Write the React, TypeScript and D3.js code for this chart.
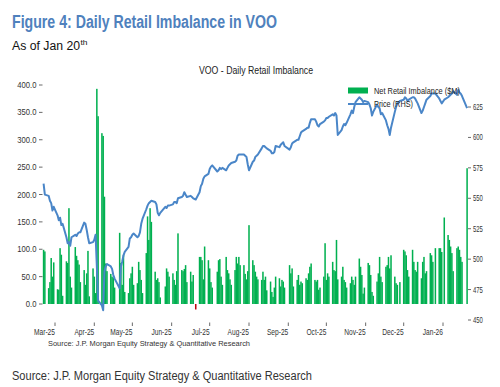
import React from "react";
import * as d3 from "d3";

// ---- Data ----
const imbFeb25 = [99, 96, 29, 40, 84, 50, 76];
const imbMar25 = [27, 26, 102, 90, 15, 78, 75, 175, 50, 30, 104, 88, 80, 72, 40, 62, 35, 56, 97, 14, 65];
const imbApr25 = [50, 20, 393, 343, 312, 307, 196, 74, 60, 55, 50, 48, 30, 130, 75, 35, 90, 22, 20, 47, 56];
const imbMay25 = [68, 35, 38, 77, 62, 44, 20, 93, 160, 117, 175, 150, 59, 44, 47, 40, 12, 32, 65, 59, 50];
const imbJun25 = [56, 44, 35, 60, 129, 62, 60, 64, 71, 40, 59, 41, 53, -10, 86, 86, 80, 45, 105, 80];
const imbJul25 = [65, 40, 30, 59, 80, 82, 50, 35, 86, 62, 56, 45, 35, 62, 86, 74, 86, 71, 71, 55, 45, 60];
const imbAug25 = [144, 80, 71, 59, 50, 45, 44, 59, 44, 50, 25, 41, 22, 13, 30, 50, 47, 32, 44, 41, 30];
const imbSep25 = [71, 56, 65, 32, 44, 53, 35, 41, 38, 47, 44, 56, 68, 74, 44, 41, 44, 26, 30, 50, 111];
const imbOct25 = [44, 56, 50, 77, 62, 60, 117, 45, 50, 68, 44, 40, 30, 38, 50, 44, 35, 50, 83, 68, 53, 19, 30];
const imbNov25 = [75, 71, 53, 22, 15, 41, 56, 86, 50, 40, 68, 71, 86, 65, 89, 50, 38, 35, 40];
const imbDec25 = [99, 96, 89, 62, 50, 99, 77, 62, 59, 77, 47, 77, 86, 56, 60, 93, 89, 77, 102, 102, 102, 95];
const imbJan26 = [158, 126, 117, 105, 93, 60, 102, 105, 99, 86, 77, 248];

const pxFeb25 = [562, 553, 552, 548, 546, 540, 543];
const pxMar25 = [536, 532, 534, 528, 529, 518, 513, 514, 511, 518, 520, 519, 521, 522, 522, 530, 529, 524, 518, 513, 514];
const pxApr25 = [516, 520, 494, 466, 462, 458, 490, 494, 496, 494, 492, 487, 484, 476, 494, 498, 503, 506, 510, 517, 518];
const pxMay25 = [520, 521, 518, 519, 522, 529, 533, 541, 544, 546, 547, 548, 547, 545, 538, 536, 538, 543, 542, 544, 544];
const pxJun25 = [545, 547, 547, 546, 550, 551, 552, 555, 553, 551, 552, 551, 550, 549, 555, 560, 562, 566, 568, 570];
const pxJul25 = [574, 576, 577, 572, 573, 575, 574, 575, 573, 575, 577, 578, 579, 580, 581, 585, 586, 586, 586, 585, 584, 578];
const pxAug25 = [573, 580, 581, 584, 585, 586, 591, 593, 593, 592, 591, 589, 587, 587, 588, 593, 592, 594, 595, 596, 593];
const pxSep25 = [590, 592, 595, 596, 598, 598, 601, 604, 605, 607, 608, 608, 612, 615, 615, 613, 610, 609, 611, 613, 614];
const pxOct25 = [616, 616, 617, 619, 618, 620, 618, 602, 606, 609, 611, 610, 612, 619, 622, 620, 625, 629, 633, 632, 631, 629, 630];
const pxNov25 = [629, 627, 624, 618, 621, 627, 625, 624, 619, 620, 614, 610, 607, 602, 608, 621, 625, 628, 630];
const pxDec25 = [631, 633, 632, 630, 631, 633, 633, 632, 630, 628, 620, 622, 625, 628, 631, 634, 636, 636, 636, 632, 630, 628];
const pxJan26 = [631, 633, 634, 635, 636, 638, 635, 639, 637, 636, 634, 624];

const holidays = ["2025-04-18", "2025-05-26", "2025-06-19", "2025-07-04", "2025-09-01", "2025-11-27", "2025-12-25", "2026-01-01", "2026-01-19"];
const startDate = "2025-02-20";
const endDate = "2026-01-20";

const leftTicks = [0, 50, 100, 150, 200, 250, 300, 350, 400];
const rightTicks = [450, 475, 500, 525, 550, 575, 600, 625];

const titleText = "Figure 4: Daily Retail Imbalance in VOO";
const subtitleText = "As of Jan 20";
const chartTitle = "VOO - Daily Retail Imbalance";
const sourceText = "Source: J.P. Morgan Equity Strategy & Quantitative Research";
const legendBar = "Net Retail Imbalance ($M)";
const legendLine = "Price (RHS)";

// ---- helpers ----
function tradingDays(): Date[] {
  const out: Date[] = [];
  const s = new Date(startDate + "T00:00:00Z");
  const e = new Date(endDate + "T00:00:00Z");
  for (let d = s; d <= e; d = d3.utcDay.offset(d, 1)) {
    const dow = d.getUTCDay();
    const iso = d.toISOString().slice(0, 10);
    if (dow === 0 || dow === 6 || holidays.includes(iso)) continue;
    out.push(d);
  }
  return out;
}

const FONT = "'Liberation Sans', Arial, sans-serif";

function SText(props: any) {
  const { x, y, anchor = "start", size = 9, fill = "#333", weight = "normal", children, tl } = props;
  return (
    <text
      x={x}
      y={y}
      textAnchor={anchor}
      fontSize={size}
      fill={fill}
      fontWeight={weight}
      fontFamily={FONT}
      {...(tl ? { textLength: tl, lengthAdjust: "spacingAndGlyphs" } : {})}
    >
      {children}
    </text>
  );
}

// approximate Arial advance widths (em) for compressing tick labels
const CW: Record<string, number> = {
  M: 0.833, a: 0.556, r: 0.333, "-": 0.333, A: 0.667, p: 0.556, y: 0.5, J: 0.5, u: 0.556,
  n: 0.556, l: 0.222, g: 0.556, S: 0.667, e: 0.556, O: 0.778, c: 0.5, t: 0.278, N: 0.722,
  o: 0.556, v: 0.5, D: 0.722, ".": 0.278,
};
const textW = (s: string, size: number) =>
  s.split("").reduce((acc, ch) => acc + (CW[ch] ?? 0.556), 0) * size;

export default function App() {
  const dates = tradingDays();
  const imb = [
    ...imbFeb25, ...imbMar25, ...imbApr25, ...imbMay25, ...imbJun25, ...imbJul25,
    ...imbAug25, ...imbSep25, ...imbOct25, ...imbNov25, ...imbDec25, ...imbJan26,
  ];
  const px = [
    ...pxFeb25, ...pxMar25, ...pxApr25, ...pxMay25, ...pxJun25, ...pxJul25,
    ...pxAug25, ...pxSep25, ...pxOct25, ...pxNov25, ...pxDec25, ...pxJan26,
  ];
  const data = dates.map((d, i) => ({ d, v: imb[i] ?? 0, p: px[i] ?? px[px.length - 1] }));

  const x = d3
    .scaleUtc()
    .domain([new Date(Date.UTC(2025, 2, 1)), new Date(Date.UTC(2026, 0, 1))])
    .range([55, 443]);
  const yL = d3.scaleLinear().domain([0, 400]).range([304, 85]);
  const yR = d3.scaleLinear().domain([450, 625]).range([320, 107]);

  const dayW = x(new Date(Date.UTC(2025, 5, 2))) - x(new Date(Date.UTC(2025, 5, 1)));
  const barW = dayW + 0.25;
  const months = d3.utcMonth.range(new Date(Date.UTC(2025, 2, 1)), new Date(Date.UTC(2026, 0, 2)));
  const fmtMonth = d3.utcFormat("%b-%y");

  const line = d3
    .line<any>()
    .x((r) => x(r.d))
    .y((r) => yR(r.p))
    .curve(d3.curveLinear);

  const tickSize = 8.5;

  return (
    <svg
      width={500}
      height={387}
      style={{ position: "absolute", left: 0, top: 0, background: "#fff" }}
    >
      <rect x={0} y={0} width={500} height={387} fill="#fff" />
      {/* headings */}
      <SText x={12} y={28} size={18} weight="bold" fill="#4f81bd" tl={265}>{titleText}</SText>
      <SText x={12} y={50} size={12.5} fill="#111" tl={68}>{subtitleText}</SText>
      <SText x={80.5} y={44.5} size={7.5} fill="#111" tl={7}>th</SText>
      <SText x={256} y={74} size={10} fill="#222" anchor="middle" tl={114}>{chartTitle}</SText>

      {/* bars */}
      <g>
        {data.map((r, i) => {
          const y0 = yL(0);
          const y1 = yL(r.v);
          return (
            <rect
              key={i}
              x={x(r.d) - barW / 2}
              y={Math.min(y0, y1)}
              width={barW}
              height={Math.abs(y1 - y0)}
              fill={r.v < 0 ? "#c0000b" : "#00b050"}
            />
          );
        })}
      </g>

      {/* price line */}
      <path d={line(data) || ""} fill="none" stroke="#4a86c8" strokeWidth={2} strokeLinejoin="round" />

      {/* left axis */}
      <g>
        {leftTicks.map((t) => {
          const s = t.toFixed(1);
          return (
            <g key={t}>
              <line x1={39} x2={42.5} y1={yL(t)} y2={yL(t)} stroke="#444" strokeWidth={0.8} />
              <SText x={36.5} y={yL(t) + 3} size={tickSize} anchor="end" tl={textW(s, tickSize) * 0.9}>{s}</SText>
            </g>
          );
        })}
      </g>

      {/* right axis */}
      <g>
        {rightTicks.map((t) => {
          const s = String(t);
          return (
            <g key={t}>
              <line x1={468} x2={471} y1={yR(t)} y2={yR(t)} stroke="#444" strokeWidth={0.8} />
              <SText x={473} y={yR(t) + 3} size={tickSize} tl={textW(s, tickSize) * 0.7}>{s}</SText>
            </g>
          );
        })}
      </g>

      {/* x axis */}
      <g>
        {months.map((m, i) => {
          const s = fmtMonth(m);
          return (
            <g key={i}>
              <line x1={x(m)} x2={x(m)} y1={322.5} y2={326} stroke="#444" strokeWidth={0.8} />
              <SText x={x(m)} y={334.5} size={tickSize} anchor="end" tl={textW(s, tickSize) * 0.78}>{s}</SText>
            </g>
          );
        })}
      </g>

      {/* inner source */}
      <SText x={48} y={345.5} size={8} fill="#333" tl={202}>{sourceText}</SText>

      {/* legend */}
      <rect x={348} y={87.5} width={20} height={6} fill="#00b050" />
      <SText x={374} y={94} size={8.5} fill="#222" tl={86}>{legendBar}</SText>
      <line x1={348} x2={368} y1={104} y2={104} stroke="#4a86c8" strokeWidth={2} />
      <SText x={374} y={107} size={8.5} fill="#222" tl={39}>{legendLine}</SText>

      {/* outer source */}
      <SText x={12} y={380} size={12} fill="#333" tl={300}>{sourceText}</SText>
    </svg>
  );
}
